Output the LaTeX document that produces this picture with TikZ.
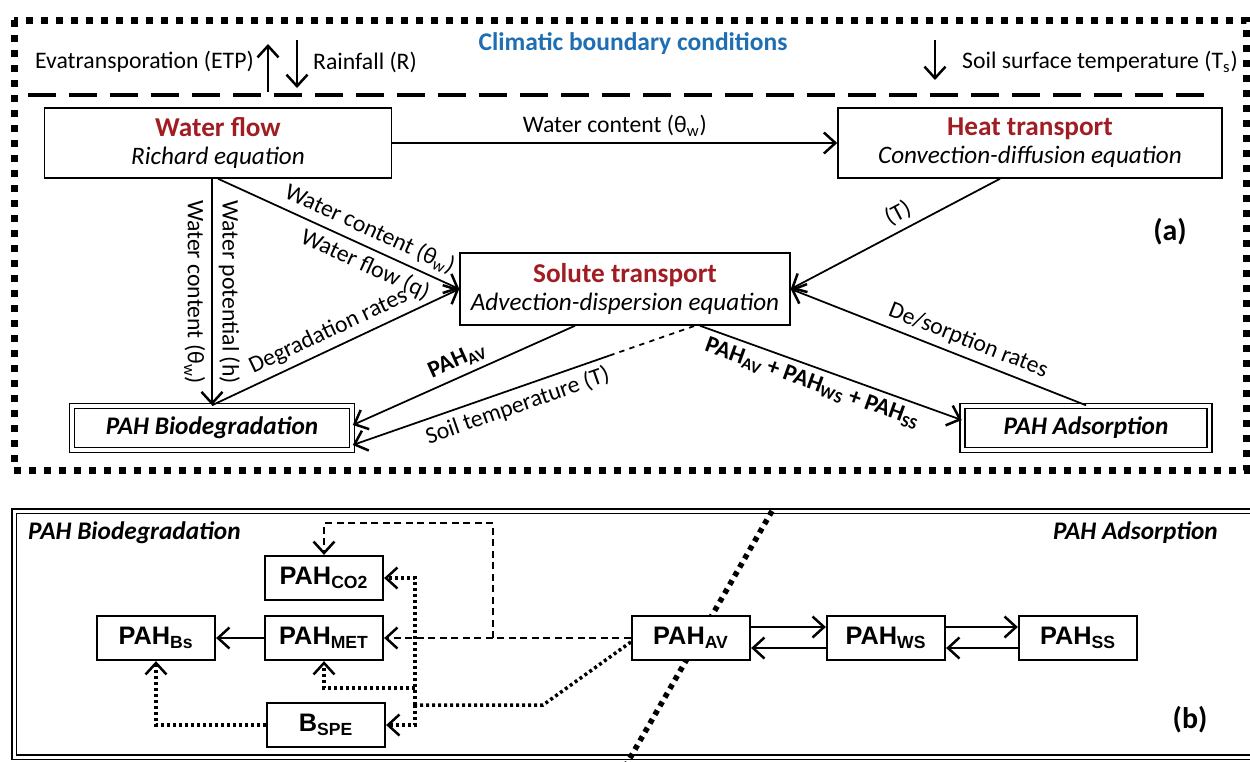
\documentclass[tikz,border=0pt]{standalone}
\usepackage{fontspec}
\setmainfont{Carlito}
\newfontfamily\arialfont{Liberation Sans}
\usetikzlibrary{arrows.meta,calc}

\definecolor{flowred}{RGB}{160,30,35}
\definecolor{climblue}{RGB}{30,110,180}

\tikzset{
  >={Straight Barb[length=2.3mm,width=4.2mm,line width=0.5mm]},
  model/.style={draw, line width=0.3mm, fill=white, minimum height=14mm, inner sep=1mm, align=center},
  pahmod/.style={draw, double, double distance=0.7mm, line width=0.3mm, fill=white, minimum height=8.8mm, font=\fontsize{14.4}{16}\selectfont\bfseries\itshape},
  pool/.style={draw, line width=0.45mm, fill=white, minimum width=23.6mm, minimum height=8.8mm, inner sep=0pt, font=\arialfont\bfseries\fontsize{14.4}{16}\selectfont},
  flux/.style={line width=0.35mm, ->},
  dashline/.style={line width=0.3mm, dash pattern=on 1.4mm off 0.9mm},
  dotline/.style={line width=0.7mm, dash pattern=on 0.6mm off 0.6mm},
  panel/.style={font=\fontsize{17}{19}\selectfont\bfseries}
}

\begin{document}
\begin{tikzpicture}[x=0.2mm, y=-0.2mm, font=\fontsize{13.5}{15}\selectfont]
\useasboundingbox (0,0) rectangle (1250,761);

% frames
\draw[line width=1.4mm, dash pattern=on 1.4mm off 1.6mm] (14,20) rectangle (1246,470);
\draw[line width=0.8mm, dash pattern=on 5.6mm off 2.6mm] (28,95) -- (1215,95);
\draw[double, double distance=0.6mm, line width=0.35mm] (14,511) rectangle (1262,757);
\draw[line width=1.1mm, dash pattern=on 1mm off 1mm] (772,511) -- (626,765);

% climatic boundary
\node[font=\fontsize{14.5}{16}\selectfont\bfseries, text=climblue] (clim) at (633,44) {Climatic boundary conditions};
\node[anchor=east] (etp) at (260,62) {Evatransporation (ETP)};
\node[anchor=west] (rain) at (307,62) {Rainfall (R)};
\node[anchor=west] (tsurf) at (956,62) {Soil surface temperature (T\textsubscript{s})};
\coordinate (etp0) at (268,92);
\coordinate (etp1) at (268,44);
\coordinate (rain0) at (297,40);
\coordinate (rain1) at (297,88);
\coordinate (ts0) at (935,40);
\coordinate (ts1) at (935,80);
\draw[flux] (etp0) -- (etp1);
\draw[flux] (rain0) -- (rain1);
\draw[flux] (ts0) -- (ts1);

% panel (a)
\node[model, minimum width=69.4mm] (wf) at (218,143) {\textcolor{flowred}{\fontsize{15.5}{17}\selectfont\bfseries Water flow}\\[1pt] \fontsize{14.3}{16}\selectfont\itshape Richard equation};
\node[model, minimum width=76.8mm] (ht) at (1030,143) {\textcolor{flowred}{\fontsize{15.5}{17}\selectfont\bfseries Heat transport}\\[1pt] \fontsize{14.3}{16}\selectfont\itshape Convection-diffusion equation};
\node[model, minimum width=66mm, minimum height=14.4mm] (st) at (625,289) {\textcolor{flowred}{\fontsize{15.5}{17}\selectfont\bfseries Solute transport}\\[1pt] \fontsize{14.3}{16}\selectfont\itshape Advection-dispersion equation};
\node[pahmod, minimum width=56mm] (bio) at (212,428) {PAH Biodegradation};
\node[pahmod, minimum width=49.4mm] (ads) at (1086,428) {PAH Adsorption};
\node[panel] (la) at (1170,232) {(a)};

\draw[flux] (wf) -- node[above]{Water content (θ\textsubscript{w})} (ht);
\draw[flux] (bio.north |- wf.south) -- node[pos=0.5, rotate=-90, above]{Water potential (h)} node[pos=0.5, rotate=-90, below]{Water content (θ\textsubscript{w})} (bio.north);
\draw[flux] (wf.south) -- node[pos=0.6, sloped, above]{Water content (θ\textsubscript{w})} node[pos=0.64, sloped, below]{Water flow (q)} (st.west);
\draw[flux] (bio.north) -- node[pos=0.5, sloped, above]{Degradation rates} (st.west);
\draw[flux, <-] (st.east) -- node[pos=0.55, sloped, above]{(T)} ([xshift=-6mm]ht.south);
\draw[flux, <-] (st.east) -- node[pos=0.58, sloped, above]{De/sorption rates} (ads.north);
\draw[flux, <-] ([yshift=0.6mm]bio.east) -- node[pos=0.5, sloped, above]{\bfseries PAH\textsubscript{AV}} ([xshift=-10mm]st.south);
\coordinate (tsoil) at ($([yshift=-3.4mm]bio.east)!0.75!([xshift=14mm]st.south)$);
\draw[flux, <-] ([yshift=-3.4mm]bio.east) -- node[pos=0.62, sloped, below]{Soil temperature (T)} (tsoil);
\draw[line width=0.35mm, dashed] (tsoil) -- ([xshift=14mm]st.south);
\draw[flux] ([xshift=15mm]st.south) -- node[pos=0.45, sloped, below]{\bfseries PAH\textsubscript{AV} + PAH\textsubscript{WS} + PAH\textsubscript{SS}} ([yshift=1.6mm]ads.west);

% panel (b)
\node[anchor=west, font=\fontsize{14.4}{16}\selectfont\bfseries\itshape] (bioti) at (22,533) {PAH Biodegradation};
\node[anchor=east, font=\fontsize{14.4}{16}\selectfont\bfseries\itshape] (adsti) at (1224,533) {PAH Adsorption};
\node[panel] (lb) at (1190,720) {(b)};

\node[pool] (co2) at (324,578) {PAH\textsubscript{CO2}};
\node[pool] (met) at (324,638) {PAH\textsubscript{MET}};
\node[pool] (spe) at (326,725) {B\textsubscript{SPE}};
\node[pool] (bs) at (156,638) {PAH\textsubscript{Bs}};
\node[pool] (av) at (691,638) {PAH\textsubscript{AV}};
\node[pool] (ws) at (886,638) {PAH\textsubscript{WS}};
\node[pool] (ss) at (1078,638) {PAH\textsubscript{SS}};

\draw[flux] (met) -- (bs);
\coordinate (dsplit) at (493,638);
\draw[dashline, ->] (av) -- (met);
\draw[dashline, ->] (dsplit) -- ++(0,-115) -| (co2.north);

\coordinate (kink) at (543,705);
\coordinate (trunk) at (415,705);
\coordinate (metturn) at (415,688);
\draw[dotline] ([yshift=-0.8mm]av.west) -- (kink) -- (trunk);
\draw[dotline, ->] (trunk) |- (co2.east);
\draw[dotline, ->] (trunk) |- (spe.east);
\draw[dotline, ->] (metturn) -| (met.south);
\draw[dotline, ->] (spe.west) -| (bs.south);

\draw[flux] ([yshift=2.2mm]av.east) -- ([yshift=2.2mm]ws.west);
\draw[flux] ([yshift=-2mm]ws.west) -- ([yshift=-2mm]av.east);
\draw[flux] ([yshift=2.2mm]ws.east) -- ([yshift=2.2mm]ss.west);
\draw[flux] ([yshift=-2mm]ss.west) -- ([yshift=-2mm]ws.east);
\end{tikzpicture}
\end{document}
